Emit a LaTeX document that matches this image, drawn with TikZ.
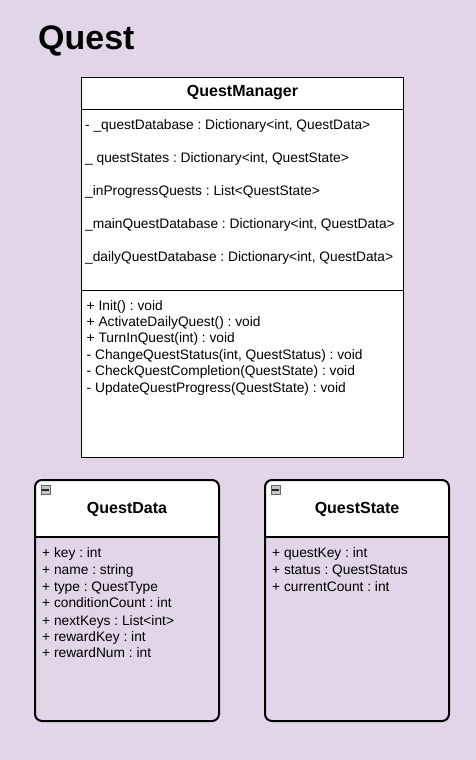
\documentclass[tikz,border=0pt]{standalone}
\usepackage{fontspec}
\setmainfont{Liberation Sans}
\definecolor{bgc}{HTML}{E1D5E7}
\frenchspacing
\begin{document}
\frenchspacing
\begin{tikzpicture}[x=1pt,y=-1pt,
  txt/.style={anchor=base west,inner sep=0pt,font=\fontsize{13.75}{16}\selectfont\frenchspacing},
  hdr/.style={anchor=base,inner sep=0pt,font=\fontsize{16}{19}\selectfont\bfseries},
  ubox/.style={draw=black,line width=2pt,rounded corners=7pt},
  icon/.style={draw=gray!80!black,fill=gray!45,line width=0.6pt}]
\fill[bgc] (0,0) rectangle (476,760);
\useasboundingbox (0,0) rectangle (476,760);
% title
\node[anchor=base west,inner sep=0pt,font=\fontsize{34}{40}\selectfont\bfseries] (title) at (38,50) {Quest};
% QuestManager
\node[draw=black,fill=white,line width=1pt,minimum width=322pt,minimum height=380pt,inner sep=0pt] (qm) at (242.5,267) {};
\draw[line width=1pt] (qm.west |- 0,109) -- (qm.east |- 0,109);
\draw[line width=1pt] (qm.west |- 0,290) -- (qm.east |- 0,290);
\node[hdr] (qmh) at (242.5,96.7) {QuestManager};
\node[txt] (qa1) at (85,129.5) {- \_questDatabase : Dictionary<int, QuestData>};
\node[txt] (qa2) at (85,162.5) {\_ questStates : Dictionary<int, QuestState>};
\node[txt] (qa3) at (85,195) {\_inProgressQuests : List<QuestState>};
\node[txt] (qa4) at (85,228.5) {\_mainQuestDatabase : Dictionary<int, QuestData>};
\node[txt] (qa5) at (85,261.5) {\_dailyQuestDatabase : Dictionary<int, QuestData>};
\node[txt] (qm1) at (86.5,310) {+ Init() : void};
\node[txt] (qm2) at (86.5,326.4) {+ ActivateDailyQuest() : void};
\node[txt] (qm3) at (86.5,342.8) {+ TurnInQuest(int) : void};
\node[txt] (qm4) at (86.5,359.2) {- ChangeQuestStatus(int, QuestStatus) : void};
\node[txt] (qm5) at (86.5,375.6) {- CheckQuestCompletion(QuestState) : void};
\node[txt] (qm6) at (86.5,392) {- UpdateQuestProgress(QuestState) : void};
% QuestData
\fill[white] (35,537) [rounded corners=7pt]-- (35,480) -- (219,480) [sharp corners]-- (219,537) -- cycle;
\node[ubox,minimum width=184pt,minimum height=241pt,inner sep=0pt] (qd) at (127,600.5) {};
\draw[line width=2pt] (qd.west |- 0,537) -- (qd.east |- 0,537);
\node[icon,minimum size=9pt,inner sep=0pt] (qdi) at (45.5,490) {};
\draw[line width=1.2pt,gray!30!black] ([xshift=1.5pt]qdi.west) -- ([xshift=-1.5pt]qdi.east);
\node[hdr] (qdh) at (127,513.7) {QuestData};
\node[txt] (qd1) at (42,557.7) {+ key : int};
\node[txt] (qd2) at (42,574.3) {+ name : string};
\node[txt] (qd3) at (42,591.2) {+ type : QuestType};
\node[txt] (qd4) at (42,607.5) {+ conditionCount : int};
\node[txt] (qd5) at (42,625.5) {+ nextKeys : List<int>};
\node[txt] (qd6) at (42,641.2) {+ rewardKey : int};
\node[txt] (qd7) at (42,657.3) {+ rewardNum : int};
% QuestState
\fill[white] (265,537) [rounded corners=7pt]-- (265,480) -- (449,480) [sharp corners]-- (449,537) -- cycle;
\node[ubox,minimum width=184pt,minimum height=241pt,inner sep=0pt] (qs) at (357,600.5) {};
\draw[line width=2pt] (qs.west |- 0,537) -- (qs.east |- 0,537);
\node[icon,minimum size=9pt,inner sep=0pt] (qsi) at (275.5,490) {};
\draw[line width=1.2pt,gray!30!black] ([xshift=1.5pt]qsi.west) -- ([xshift=-1.5pt]qsi.east);
\node[hdr] (qsh) at (357,513.7) {QuestState};
\node[txt] (qs1) at (272,557.7) {+ questKey : int};
\node[txt] (qs2) at (272,574.3) {+ status : QuestStatus};
\node[txt] (qs3) at (272,591) {+ currentCount : int};
\end{tikzpicture}
\end{document}
